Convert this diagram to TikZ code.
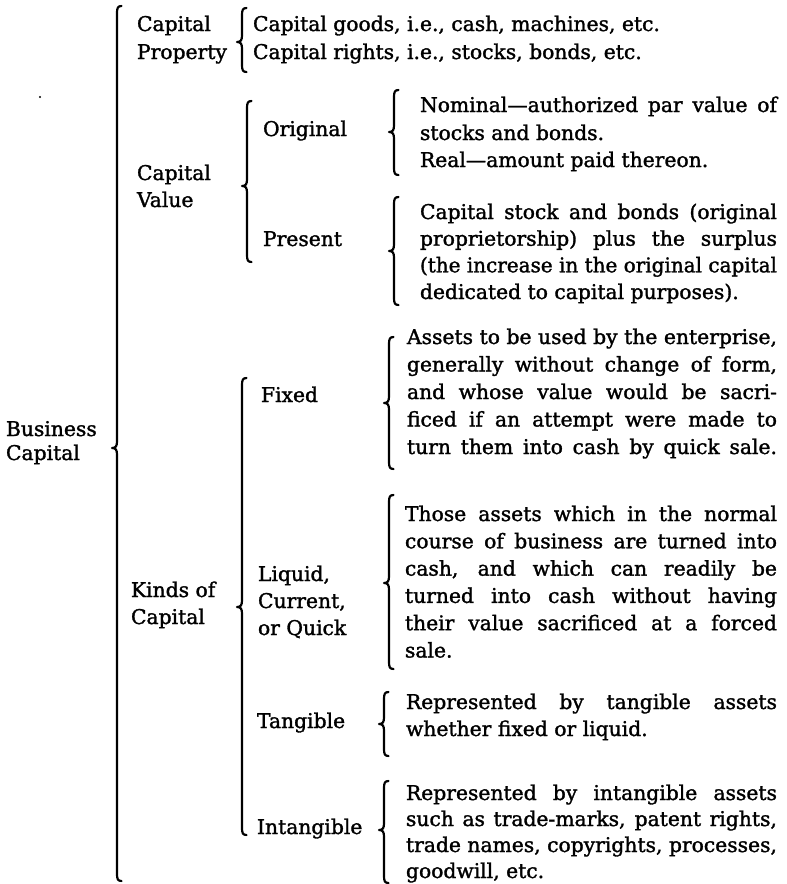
\documentclass[tikz,border=0pt]{standalone}
\usepackage{fontspec}
\setmainfont[FakeBold=1.5]{DejaVu Serif}
\usepackage{graphicx}
\newsavebox\jlbox
\newcommand\jl[2]{\sbox\jlbox{#2}\ifdim\wd\jlbox>#1\relax\resizebox{#1}{\height}{#2}\else\makebox[#1][s]{#2}\fi}
\newcommand\fsz{\fontsize{20.3}{27.6}\selectfont}
\newcommand\brc[4]{%
  \draw[brace line] ({#1+4.5},#2) .. controls ({#1+0.8},#2) and (#1,{#2+2}) .. (#1,{#2+7})
    -- (#1,{#4-7}) .. controls (#1,{#4-2}) and ({#1-1},#4) .. ({#1-5},#4)
    .. controls ({#1-1},#4) and (#1,{#4+2}) .. (#1,{#4+7})
    -- (#1,{#3-7}) .. controls (#1,{#3-2}) and ({#1+0.8},#3) .. ({#1+4.5},#3);}
\begin{document}
\begin{tikzpicture}[x=1pt,y=-1pt,
  txt/.style={anchor=base west, inner sep=0pt, outer sep=0pt, font=\fsz},
  brace line/.style={line width=2.2pt, line cap=round, line join=round}]
\useasboundingbox (0,0) rectangle (787,884);
\fill (40,97) circle (1.2);
% root
\node[txt] (bc1) at (6,436) {Business};
\node[txt] (bc2) at (6,460) {Capital};
\brc{117}{6}{881}{448}
% capital property
\node[txt] (cp1) at (137,31) {Capital};
\node[txt] (cp2) at (137,59) {Property};
\brc{242}{8}{72}{42}
\node[txt] (cg1) at (253,31) {Capital goods, i.e., cash, machines, etc.};
\node[txt] (cg2) at (253,59) {Capital rights, i.e., stocks, bonds, etc.};
% capital value
\node[txt] (cv1) at (137,180) {Capital};
\node[txt] (cv2) at (137,207) {Value};
\brc{247}{101}{262}{186}
\node[txt] (orig) at (263,136) {Original};
\node[txt] (pres) at (263,246) {Present};
\brc{394}{90}{175}{132}
\node[txt] (o1) at (420,112) {\jl{357pt}{Nominal---authorized par value of}};
\node[txt] (o2) at (420,140) {stocks and bonds.};
\node[txt] (o3) at (420,167) {Real---amount paid thereon.};
\brc{394}{197}{305}{251}
\node[txt] (p1) at (420,219) {\jl{357pt}{Capital stock and bonds (original}};
\node[txt] (p2) at (420,245.7) {\jl{357pt}{proprietorship) plus the surplus}};
\node[txt] (p3) at (420,272.3) {\jl{357pt}{(the increase in the original capital}};
\node[txt] (p4) at (420,299) {dedicated to capital purposes).};
% kinds of capital
\node[txt] (kc1) at (131,597) {Kinds of};
\node[txt] (kc2) at (131,624) {Capital};
\brc{242}{378}{835}{607}
\node[txt] (fix) at (261,402) {Fixed};
\brc{389}{337}{469}{403}
\node[txt] (f1) at (407,344) {\jl{370pt}{Assets to be used by the enterprise,}};
\node[txt] (f2) at (407,371.5) {\jl{370pt}{generally without change of form,}};
\node[txt] (f3) at (407,399) {\jl{370pt}{and whose value would be sacri-}};
\node[txt] (f4) at (407,426.5) {\jl{370pt}{ficed if an attempt were made to}};
\node[txt] (f5) at (407,454) {\jl{370pt}{turn them into cash by quick sale.}};
\node[txt] (lq1) at (258,581) {Liquid,};
\node[txt] (lq2) at (258,608) {Current,};
\node[txt] (lq3) at (258,635) {or Quick};
\brc{389}{495}{669}{583}
\node[txt] (l1) at (405,521) {\jl{372pt}{Those assets which in the normal}};
\node[txt] (l2) at (405,548.3) {\jl{372pt}{course of business are turned into}};
\node[txt] (l3) at (405,575.6) {\jl{372pt}{cash, and which can readily be}};
\node[txt] (l4) at (405,602.9) {\jl{372pt}{turned into cash without having}};
\node[txt] (l5) at (405,630.2) {\jl{372pt}{their value sacrificed at a forced}};
\node[txt] (l6) at (405,657.5) {sale.};
\node[txt] (tg) at (257,728) {Tangible};
\brc{384}{692}{756}{724}
\node[txt] (t1) at (406,709) {\jl{371pt}{Represented by tangible assets}};
\node[txt] (t2) at (406,736) {whether fixed or liquid.};
\node[txt] (itg) at (257,834) {Intangible};
\brc{384}{781}{883}{830}
\node[txt] (i1) at (406,800) {\jl{371pt}{Represented by intangible assets}};
\node[txt] (i2) at (406,826) {\jl{371pt}{such as trade-marks, patent rights,}};
\node[txt] (i3) at (406,852) {\jl{371pt}{trade names, copyrights, processes,}};
\node[txt] (i4) at (406,878) {goodwill, etc.};
\end{tikzpicture}
\end{document}
